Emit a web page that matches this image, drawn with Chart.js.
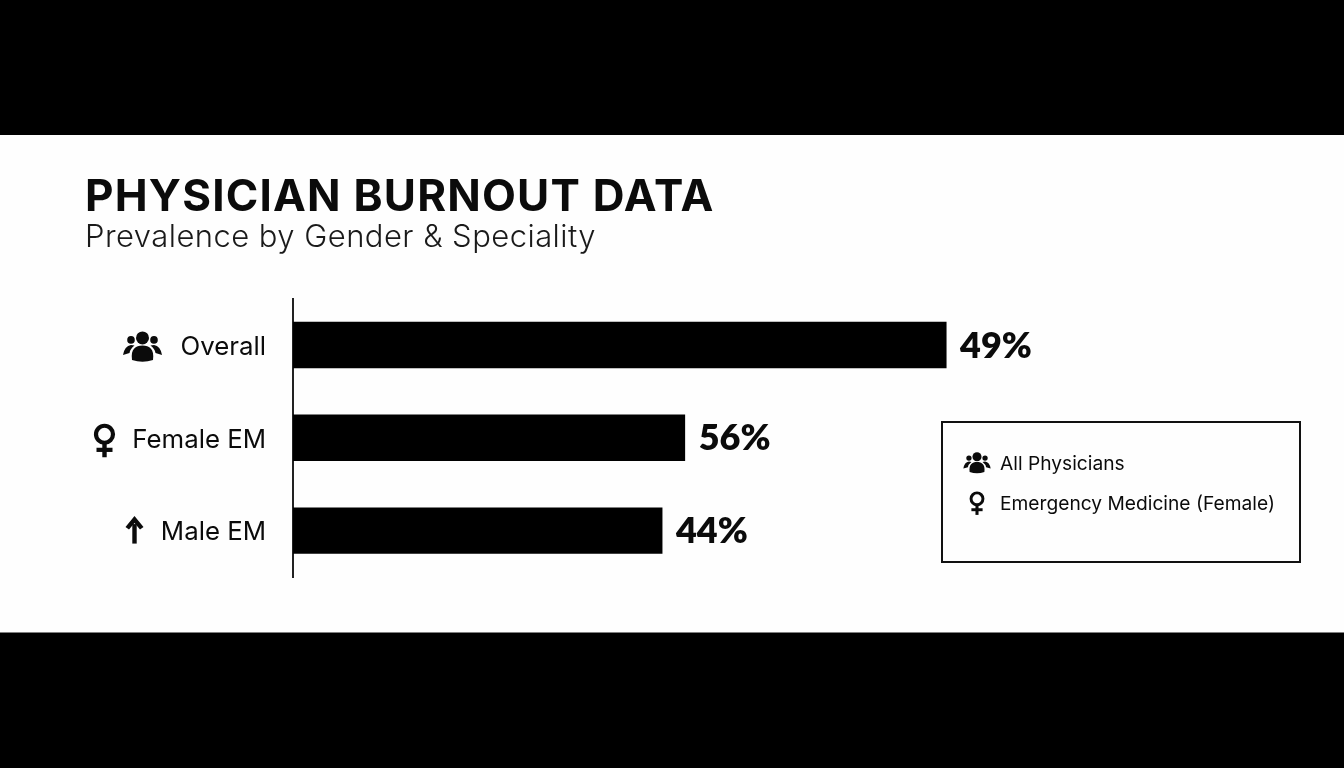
<!DOCTYPE html>
<html><head><meta charset="utf-8">
<style>html,body{margin:0;padding:0;background:#000;overflow:hidden}canvas{display:block}</style>
<script src="https://cdn.jsdelivr.net/npm/chart.js@4/dist/chart.umd.min.js"></script>
</head><body>
<div style="width:1344px;height:768px"><canvas id="c" width="1344" height="768"></canvas></div>
<script>
const titleText = 'PHYSICIAN BURNOUT DATA';
const subtitleText = 'Prevalence by Gender & Speciality';
const categories = ['Overall', 'Female EM', 'Male EM'];
// The picture's bar lengths do not follow its printed percentages, so both are kept:
// barLengths (the first bar = its printed 49 on the axis), printedLabels off the text.
const barLengths = [49, 29.4, 27.7];
const printedLabels = ['49%', '56%', '44%'];
const categoryIcons = ['people', 'female', 'arrow'];
const legendLabels = ['All Physicians', 'Emergency Medicine (Female)'];
const legendIcons = ['people', 'female'];

const INK = '#0b0b0b';
function people(ctx, cx, cy, s) {
  ctx.save(); ctx.translate(cx, cy); ctx.scale(s, s); ctx.fillStyle = INK;
  ctx.beginPath(); ctx.arc(0, -9, 6.5, 0, Math.PI * 2); ctx.fill();
  ctx.beginPath(); ctx.arc(-11.5, -7, 3.8, 0, Math.PI * 2); ctx.arc(11.5, -7, 3.8, 0, Math.PI * 2); ctx.fill();
  ctx.beginPath(); ctx.moveTo(-10.5, 13); ctx.bezierCurveTo(-12, 2, -7, -1.5, 0, -1.5); ctx.bezierCurveTo(7, -1.5, 12, 2, 10.5, 13);
  ctx.quadraticCurveTo(0, 16.5, -10.5, 13); ctx.fill();
  ctx.beginPath(); ctx.moveTo(-19.5, 8); ctx.quadraticCurveTo(-18, -1, -11.5, -2); ctx.lineTo(-8, -1.5); ctx.quadraticCurveTo(-12.5, 2, -13, 6); ctx.closePath(); ctx.fill();
  ctx.beginPath(); ctx.moveTo(19.5, 8); ctx.quadraticCurveTo(18, -1, 11.5, -2); ctx.lineTo(8, -1.5); ctx.quadraticCurveTo(12.5, 2, 13, 6); ctx.closePath(); ctx.fill();
  ctx.restore();
}
function female(ctx, cx, cy, s) {
  ctx.save(); ctx.translate(cx, cy); ctx.scale(s, s); ctx.strokeStyle = INK; ctx.fillStyle = INK;
  ctx.lineWidth = 4.2;
  ctx.beginPath(); ctx.arc(0, -6, 8.5, 0, Math.PI * 2); ctx.stroke();
  ctx.fillRect(-2.2, 3, 4.4, 14);
  ctx.fillRect(-8, 7.5, 16, 4.2);
  ctx.restore();
}
function arrow(ctx, cx, cy, s) {
  ctx.save(); ctx.translate(cx, cy); ctx.scale(s, s); ctx.fillStyle = INK;
  ctx.fillRect(-2.2, -6, 4.4, 19.5);
  ctx.beginPath(); ctx.moveTo(0, -14); ctx.lineTo(9, -3); ctx.lineTo(5.5, -0.5); ctx.lineTo(0, -7); ctx.lineTo(-5.5, -0.5); ctx.lineTo(-9, -3); ctx.closePath(); ctx.fill();
  ctx.restore();
}
const iconDraw = { people, female, arrow };
const iconPlacement = { people: { x: 142.5, dy: 2 }, female: { x: 104.5, dy: 2.5 }, arrow: { x: 134.5, dy: -0.5 } };

const panel = {
  id: 'panel',
  beforeDraw(chart) {
    const { ctx, width, height } = chart;
    ctx.save();
    ctx.fillStyle = '#000'; ctx.fillRect(0, 0, width, height);
    ctx.fillStyle = '#fefefe'; ctx.fillRect(0, 135, width, 497.5);
    ctx.textBaseline = 'alphabetic'; ctx.textAlign = 'left';
    ctx.fillStyle = INK; ctx.font = '700 44px Inter'; ctx.letterSpacing = '1.2px';
    ctx.fillText(titleText, 85, 211);
    ctx.fillStyle = '#1a1a1a'; ctx.font = '300 31px Inter'; ctx.letterSpacing = '0.45px';
    ctx.fillText(subtitleText, 85, 247);
    ctx.letterSpacing = '0px';
    ctx.restore();
  }
};
const annotate = {
  id: 'annotate',
  afterDatasetsDraw(chart) {
    const { ctx } = chart;
    const yScale = chart.scales.y;
    const bars = chart.getDatasetMeta(0).data;
    ctx.save();
    ctx.fillStyle = INK; ctx.textBaseline = 'middle'; ctx.textAlign = 'left';
    ctx.font = '800 36px Lato';
    bars.forEach((b, i) => ctx.fillText(printedLabels[i], b.x + 13.5, b.y + 1));
    categories.forEach((c, i) => {
      const icon = categoryIcons[i], p = iconPlacement[icon];
      iconDraw[icon](ctx, p.x, yScale.getPixelForValue(i) + p.dy, 1);
    });
    // legend box
    ctx.lineWidth = 2; ctx.strokeStyle = '#111';
    ctx.strokeRect(942, 422, 358, 140);
    ctx.font = '400 19.2px Inter';
    legendLabels.forEach((t, i) => {
      const y = 464 + i * 40;
      ctx.fillStyle = INK; ctx.fillText(t, 1000, y);
      iconDraw[legendIcons[i]](ctx, 977, y - 1, 0.7);
    });
    ctx.restore();
  }
};

new Chart(document.getElementById('c'), {
  type: 'bar',
  data: { labels: categories, datasets: [{ data: barLengths, backgroundColor: '#000', barPercentage: 0.5, categoryPercentage: 1 }] },
  plugins: [panel, annotate],
  options: {
    indexAxis: 'y', responsive: false, animation: false,
    layout: { padding: { left: 85, right: 44, top: 298.5, bottom: 191 } },
    plugins: { legend: { display: false }, tooltip: { enabled: false } },
    scales: {
      x: { display: false, min: 0, max: 75.5 },
      y: {
        afterFit(s) { s.width = 208; },
        grid: { display: false, drawTicks: false },
        border: { display: true, color: '#222', width: 2 },
        ticks: { color: INK, padding: 27, labelOffset: 2, font: { family: 'Inter', size: 25.8 } }
      }
    }
  }
});
</script>
</body></html>
